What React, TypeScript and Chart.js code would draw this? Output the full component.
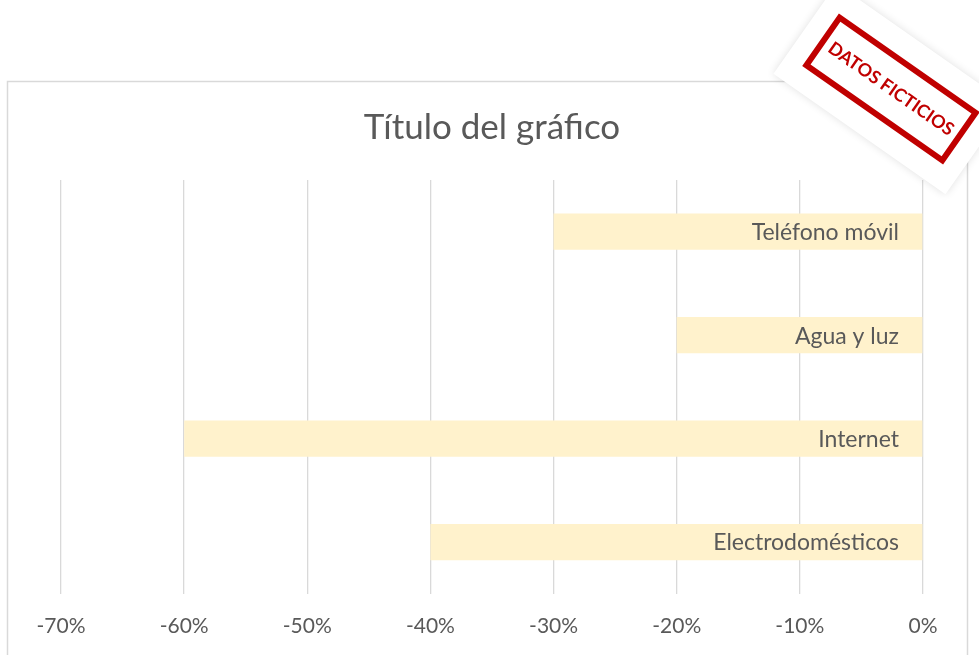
import React, { useEffect, useRef } from "react";
import { Chart, registerables } from "chart.js";

Chart.register(...registerables);

const categories = ["Teléfono móvil", "Agua y luz", "Internet", "Electrodomésticos"];
const values = [-0.3, -0.2, -0.6, -0.4];
const tickMin = -0.7;
const tickMax = 0;
const tickStep = 0.1;
const chartTitle = "Título del gráfico";
const stampText = "DATOS FICTICIOS";

const TEXT = "#595959";
const GRID = "#D9D9D9";
const BAR = "#FFF2CC";
const FONT = "Lato, 'Open Sans', sans-serif";

const framePlugin = {
  id: "frame",
  beforeDraw(chart: any) {
    const ctx = chart.ctx;
    ctx.save();
    ctx.fillStyle = "#ffffff";
    ctx.fillRect(0, 0, chart.width, chart.height);
    ctx.strokeStyle = GRID;
    ctx.lineWidth = 1.5;
    ctx.strokeRect(7.5, 81.5, 960, 620);
    ctx.restore();
  },
};

const labelPlugin = {
  id: "barLabels",
  afterDatasetsDraw(chart: any) {
    const ctx = chart.ctx;
    const meta = chart.getDatasetMeta(0);
    const xScale = chart.scales.x;
    const zeroX = xScale.getPixelForValue(0);
    ctx.save();
    ctx.font = `23px ${FONT}`;
    ctx.fillStyle = TEXT;
    ctx.textAlign = "right";
    ctx.textBaseline = "middle";
    meta.data.forEach((bar: any, i: number) => {
      ctx.fillText(chart.data.labels[i], zeroX - 24, bar.y + 1);
    });
    ctx.restore();
  },
};

const stampPlugin = {
  id: "stamp",
  afterDraw(chart: any) {
    const ctx = chart.ctx;
    ctx.save();
    ctx.translate(891, 89);
    ctx.rotate((35 * Math.PI) / 180);
    ctx.shadowColor = "rgba(0,0,0,0.12)";
    ctx.shadowBlur = 8;
    ctx.fillStyle = "#ffffff";
    ctx.fillRect(-105, -55, 210, 110);
    ctx.shadowColor = "transparent";
    ctx.shadowBlur = 0;
    ctx.strokeStyle = "#C00000";
    ctx.lineWidth = 6;
    ctx.strokeRect(-83, -29, 166, 58);
    ctx.fillStyle = "#C00000";
    ctx.font = `bold 18px ${FONT}`;
    ctx.textAlign = "center";
    ctx.textBaseline = "middle";
    ctx.fillText(stampText, 0, 0);
    ctx.restore();
  },
};

export default function App() {
  const ref = useRef<HTMLCanvasElement | null>(null);

  useEffect(() => {
    if (!ref.current) return;
    const chart = new Chart(ref.current, {
      type: "bar",
      data: {
        labels: categories,
        datasets: [
          {
            data: values,
            backgroundColor: BAR,
            borderWidth: 0,
            categoryPercentage: 1,
            barPercentage: 0.35,
          },
        ],
      },
      options: {
        indexAxis: "y",
        animation: false,
        responsive: false,
        devicePixelRatio: 1,
        layout: { padding: { left: 61, right: 56, top: 0, bottom: 21 } },
        plugins: {
          legend: { display: false },
          tooltip: { enabled: false },
          title: {
            display: true,
            text: chartTitle,
            color: TEXT,
            font: { family: FONT, size: 35, weight: "normal" },
            padding: { top: 107, bottom: 31 },
          },
        },
        scales: {
          x: {
            min: tickMin,
            max: tickMax,
            ticks: {
              stepSize: tickStep,
              color: TEXT,
              padding: 20,
              font: { family: FONT, size: 21 },
              callback: (v: any) => `${Math.round(Number(v) * 100)}%`,
            },
            grid: { color: GRID, lineWidth: 1.3, drawTicks: false },
            border: { display: false },
          },
          y: { display: false },
        },
      },
      plugins: [framePlugin, labelPlugin, stampPlugin],
    });
    return () => chart.destroy();
  }, []);

  return (
    <div style={{ position: "absolute", left: 0, top: 0, width: 979, height: 655, overflow: "hidden" }}>
      <canvas ref={ref} width={979} height={680} />
    </div>
  );
}
